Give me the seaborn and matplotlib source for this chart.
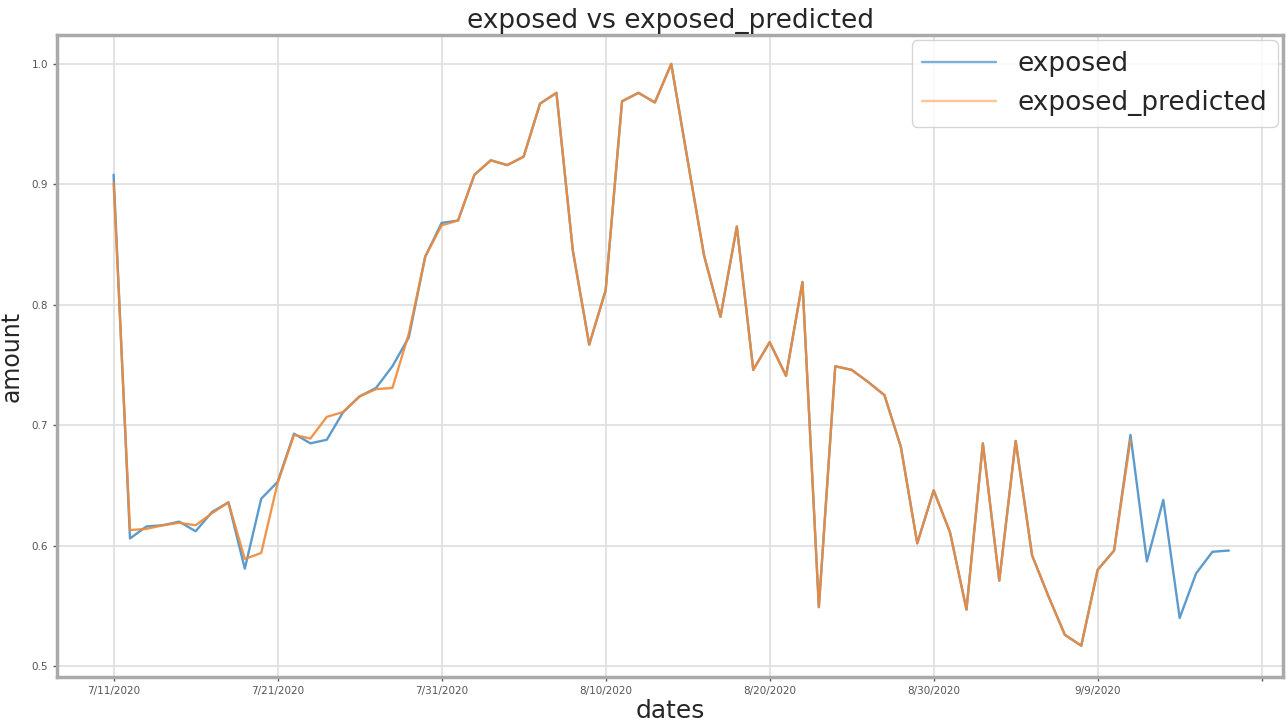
import numpy as np
import pandas as pd
import matplotlib
matplotlib.use("Agg")
import matplotlib.pyplot as plt
import seaborn as sns

# ============================================================
# DATA
# ============================================================

dates = pd.date_range("2020-07-11", periods=69, freq="D")
date_labels = [f"{d.month}/{d.day}/{d.year}" for d in dates]

exposed = [
    0.908, 0.606, 0.616, 0.617, 0.620, 0.612, 0.628, 0.636, 0.581, 0.639,
    0.653, 0.693, 0.685, 0.688, 0.711, 0.724, 0.731, 0.749, 0.773, 0.840,
    0.868, 0.870, 0.908, 0.920, 0.916, 0.923, 0.967, 0.976, 0.845, 0.767,
    0.812, 0.969, 0.976, 0.968, 1.000, 0.920, 0.841, 0.790, 0.865, 0.746,
    0.769, 0.741, 0.819, 0.549, 0.749, 0.746, 0.736, 0.725, 0.682, 0.602,
    0.646, 0.611, 0.547, 0.685, 0.571, 0.687, 0.592, 0.558, 0.526, 0.517,
    0.580, 0.596, 0.692, 0.587, 0.638, 0.540, 0.577, 0.595, 0.596,
]

exposed_predicted = [
    0.901, 0.613, 0.614, 0.617, 0.619, 0.617, 0.627, 0.636, 0.589, 0.594,
    0.652, 0.692, 0.689, 0.707, 0.711, 0.724, 0.730, 0.731, 0.776, 0.840,
    0.866, 0.870, 0.908, 0.920, 0.916, 0.923, 0.967, 0.976, 0.845, 0.767,
    0.812, 0.969, 0.976, 0.968, 1.000, 0.920, 0.841, 0.790, 0.865, 0.746,
    0.769, 0.741, 0.819, 0.549, 0.749, 0.746, 0.736, 0.725, 0.682, 0.602,
    0.646, 0.611, 0.547, 0.685, 0.571, 0.687, 0.592, 0.558, 0.526, 0.517,
    0.580, 0.596, 0.688,
]

# ============================================================
# STYLE
# ============================================================

sns.set_theme(style="whitegrid")
plt.rcParams["font.family"] = ["DejaVu Sans"]

fig = plt.figure(figsize=(12.87, 7.22), dpi=100)
ax = fig.add_axes([0.0443, 0.0623, 0.9526, 0.8892])

sns.lineplot(
    x=np.arange(len(exposed)),
    y=exposed,
    color="#4a90c8",
    alpha=0.9,
    linewidth=1.7,
    label="exposed",
    ax=ax
)

sns.lineplot(
    x=np.arange(len(exposed_predicted)),
    y=exposed_predicted,
    color="#ef8a3a",
    alpha=0.9,
    linewidth=1.7,
    label="exposed_predicted",
    ax=ax
)

# ticks every 10 positions, last one past the data has no label
tick_pos = list(range(0, 71, 10))
tick_lab = [date_labels[i] if i < len(date_labels) else "" for i in tick_pos]
ax.set_xticks(tick_pos)
ax.set_xticklabels(tick_lab)
ax.set_yticks([0.5, 0.6, 0.7, 0.8, 0.9, 1.0])

ax.tick_params(axis="both", labelsize=7.5, colors="#555555",
               length=3, width=1, bottom=True, left=True)
ax.set_xlim(-3.45, 71.3)
ax.set_ylim(0.491, 1.024)

ax.grid(True, color="#e0e0e0", linewidth=1.3)
for sp in ax.spines.values():
    sp.set_color("#aaaaaa")
    sp.set_linewidth(2.5)
    sp.set_visible(True)

ax.set_xlabel("dates", fontsize=18, labelpad=2)
ax.set_ylabel("amount", fontsize=17, labelpad=6)
ax.set_title("exposed vs exposed_predicted", fontsize=19, pad=5)

leg = ax.legend(loc="upper right", fontsize=19, frameon=True,
                borderaxespad=0.2, handlelength=2.8)
leg.get_lines()[1].set_color("#fbbf8c")
leg.get_lines()[0].set_color("#6fa7d6")

plt.savefig("out.png", dpi=100)
plt.close()
